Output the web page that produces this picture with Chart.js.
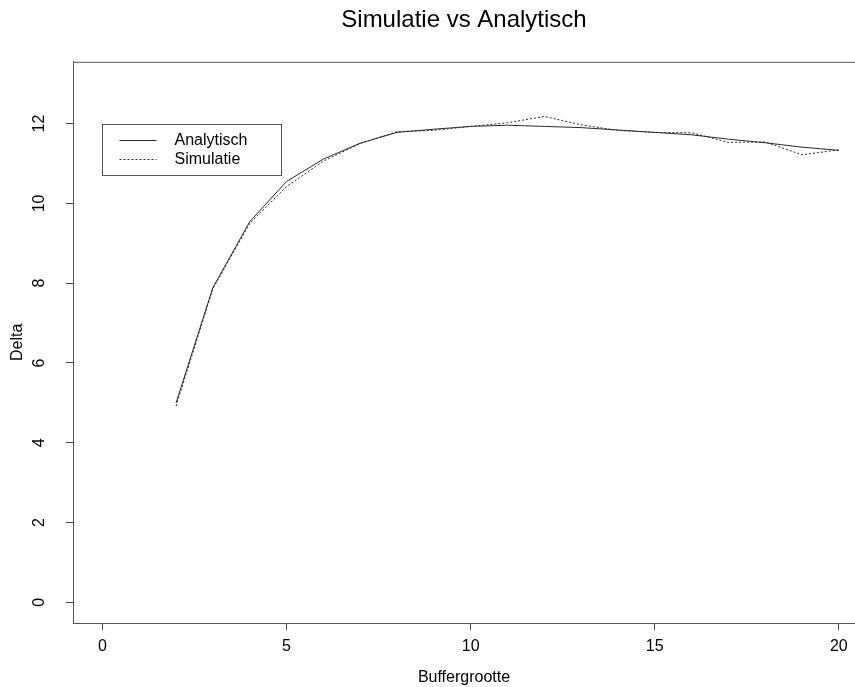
<!DOCTYPE html>
<html>
<head>
<meta charset="utf-8">
<title>Simulatie vs Analytisch</title>
<script src="https://cdn.jsdelivr.net/npm/chart.js"></script>
<style>
    html, body { margin: 0; padding: 0; background: #fff; }
    #wrap { width: 855px; height: 687px; position: relative; }
</style>
</head>
<body>
<div id="wrap"><canvas id="chart"></canvas></div>
<script>
// ── data ──────────────────────────────────────────────────────────
const bufferSizes = [2, 3, 4, 5, 6, 7, 8, 9, 10, 11, 12, 13, 14, 15, 16, 17, 18, 19, 20];
const analytisch  = [5.00, 7.89, 9.54, 10.55, 11.11, 11.51, 11.78, 11.86, 11.93, 11.96,
                     11.93, 11.90, 11.84, 11.78, 11.72, 11.61, 11.52, 11.41, 11.33];
const simulatie   = [4.92, 7.86, 9.50, 10.42, 11.06, 11.50, 11.80, 11.83, 11.93, 12.02,
                     12.18, 11.97, 11.83, 11.78, 11.77, 11.53, 11.54, 11.22, 11.34];
const xTicks = [0, 5, 10, 15, 20];
const yTicks = [0, 2, 4, 6, 8, 10, 12];
const seriesNames = ['Analytisch', 'Simulatie'];

const FONT = 'Liberation Sans, Arial, Helvetica, sans-serif';
const INK = '#2a2a2a';

const toPoints = (xs, ys) => xs.map((x, i) => ({ x: x, y: ys[i] }));

// R-style closed box around the plot region
const plotBox = {
    id: 'plotBox',
    afterDraw(chart) {
        const { ctx, chartArea: a } = chart;
        ctx.save();
        ctx.strokeStyle = '#555';
        ctx.lineWidth = 1;
        ctx.strokeRect(a.left + 0.5, a.top + 0.5, a.right - a.left, a.bottom - a.top);
        ctx.restore();
    }
};

// legend box anchored at data point (0, 12), like legend(0, 12, ...) in R
const rLegend = {
    id: 'rLegend',
    afterDraw(chart) {
        const { ctx, scales } = chart;
        const x0 = Math.round(scales.x.getPixelForValue(0)) + 0.5;
        const y0 = Math.round(scales.y.getPixelForValue(12)) + 0.5;
        const w = 179, h = 51;
        ctx.save();
        ctx.fillStyle = '#fff';
        ctx.fillRect(x0, y0, w, h);
        ctx.strokeStyle = '#555';
        ctx.lineWidth = 1;
        ctx.strokeRect(x0, y0, w, h);
        ctx.font = '16px ' + FONT;
        ctx.textBaseline = 'middle';
        chart.data.datasets.forEach((ds, i) => {
            const y = Math.round(y0 + 15 + i * 19) + 0.5;
            ctx.strokeStyle = ds.borderColor;
            ctx.setLineDash(ds.borderDash || []);
            ctx.beginPath();
            ctx.moveTo(x0 + 17, y);
            ctx.lineTo(x0 + 54, y);
            ctx.stroke();
            ctx.setLineDash([]);
            ctx.fillStyle = '#000';
            ctx.fillText(seriesNames[i], x0 + 72, y);
        });
        ctx.restore();
    }
};

new Chart(document.getElementById('chart'), {
    type: 'line',
    data: {
        datasets: [
            {
                label: seriesNames[0],
                data: toPoints(bufferSizes, analytisch),
                borderColor: INK,
                borderWidth: 1,
                pointRadius: 0,
                tension: 0
            },
            {
                label: seriesNames[1],
                data: toPoints(bufferSizes, simulatie),
                borderColor: INK,
                borderWidth: 1,
                borderDash: [2, 2],
                pointRadius: 0,
                tension: 0
            }
        ]
    },
    options: {
        responsive: true,
        maintainAspectRatio: false,
        animation: false,
        layout: { padding: 0 },
        plugins: {
            legend: { display: false },
            tooltip: { enabled: false },
            title: {
                display: true,
                text: 'Simulatie vs Analytisch',
                fullSize: false,
                color: '#000',
                font: { family: FONT, size: 24, weight: 'normal' },
                padding: { top: 6, bottom: 27 }
            }
        },
        scales: {
            x: {
                type: 'linear',
                min: -0.8,
                max: 20.44,
                afterBuildTicks: s => { s.ticks = xTicks.map(v => ({ value: v })); },
                afterFit: s => { s.height = 64; },
                border: { color: '#555', width: 1 },
                grid: { drawOnChartArea: false, tickLength: 7, color: '#444' },
                ticks: {
                    color: '#000',
                    padding: 7,
                    maxRotation: 0,
                    font: { family: FONT, size: 16 }
                },
                title: {
                    display: true,
                    text: 'Buffergrootte',
                    color: '#000',
                    font: { family: FONT, size: 16 },
                    padding: { top: 2, bottom: 0 }
                }
            },
            y: {
                min: -0.52,
                max: 13.55,
                afterBuildTicks: s => { s.ticks = yTicks.map(v => ({ value: v })); },
                afterFit: s => { s.width = 73; },
                border: { color: '#555', width: 1 },
                grid: { drawOnChartArea: false, tickLength: 7, color: '#444' },
                ticks: {
                    color: '#000',
                    padding: 18,
                    minRotation: 90,
                    maxRotation: 90,
                    crossAlign: 'center',
                    font: { family: FONT, size: 16 }
                },
                title: {
                    display: true,
                    text: 'Delta',
                    color: '#000',
                    font: { family: FONT, size: 16 },
                    padding: { top: 8, bottom: 0 }
                }
            }
        }
    },
    plugins: [plotBox, rLegend]
});
</script>
</body>
</html>
